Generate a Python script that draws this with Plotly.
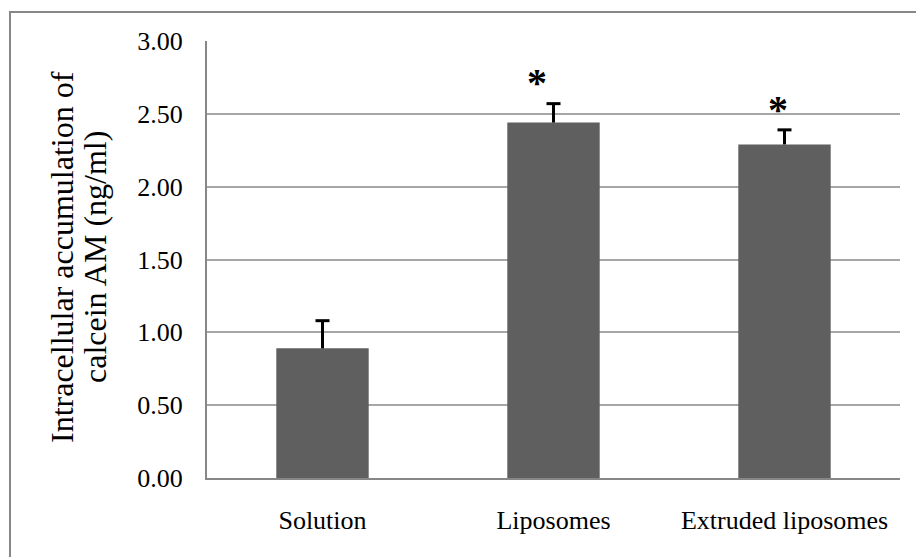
import plotly.graph_objects as go

# Intracellular calcein AM accumulation by formulation
categories = ["Solution", "Liposomes", "Extruded liposomes"]
means = [0.89, 2.44, 2.29]
errors = [0.19, 0.13, 0.10]
significant = [False, True, True]
y_ticks = [0.0, 0.5, 1.0, 1.5, 2.0, 2.5, 3.0]
y_tick_labels = ["0.00", "0.50", "1.00", "1.50", "2.00", "2.50", "3.00"]

W, H = 916, 557
L, R, T, B = 207, 16, 41, 79
plot_w = W - L - R
plot_h = H - T - B

serif = "Liberation Serif, Times New Roman, serif"

fig = go.Figure()
fig.add_trace(go.Bar(
    x=categories,
    y=means,
    width=0.4,
    marker=dict(color="#5f5f5f", line=dict(width=0)),
    hoverinfo="x+y",
))

# upper-only error bars: a stem from the bar top to mean + error, capped with a tick
stem_x, stem_y = [], []
for cat, m, e in zip(categories, means, errors):
    stem_x += [cat, cat, None]
    stem_y += [m, m + e, None]
fig.add_trace(go.Scatter(
    x=stem_x, y=stem_y, mode="lines",
    line=dict(color="black", width=3), hoverinfo="skip",
))
fig.add_trace(go.Scatter(
    x=categories, y=[m + e for m, e in zip(means, errors)], mode="markers",
    marker=dict(symbol="line-ew", size=10, line=dict(color="black", width=3)),
    hoverinfo="skip",
))

# significance marks above the error bars
star_y = {"Liposomes": 2.55, "Extruded liposomes": 2.36}
star_dx = {"Liposomes": -17, "Extruded liposomes": -7}
annotations = []
for cat, sig in zip(categories, significant):
    if sig:
        annotations.append(dict(
            x=cat, y=star_y[cat], xref="x", yref="y", text="<b>*</b>",
            showarrow=False, xshift=star_dx[cat],
            font=dict(family=serif, size=40, color="black"),
            xanchor="center", yanchor="bottom",
        ))

# two-line vertical axis title
title_lines = ["Intracellular accumulation of", "calcein AM (ng/ml)"]
title_x_px = [62, 95]
for line, xp in zip(title_lines, title_x_px):
    annotations.append(dict(
        x=(xp - L) / plot_w, y=(H - B - 257) / plot_h,
        xref="paper", yref="paper", text=line, textangle=-90,
        showarrow=False, xanchor="center", yanchor="middle",
        font=dict(family=serif, size=32, color="black"),
    ))

# chart-area frame
frame_color = "#878787"
shapes = [dict(
    type="rect", xref="paper", yref="paper",
    x0=(10 - L) / plot_w, x1=(W + 10 - L) / plot_w,
    y0=(H - B - (H + 10)) / plot_h, y1=(H - B - 12) / plot_h,
    line=dict(color=frame_color, width=2), fillcolor="rgba(0,0,0,0)",
    layer="below",
)]

fig.update_layout(
    width=W, height=H,
    margin=dict(l=L, r=R, t=T, b=B, pad=0),
    paper_bgcolor="white", plot_bgcolor="white",
    showlegend=False,
    bargap=0.6,
    annotations=annotations,
    shapes=shapes,
    xaxis=dict(
        showline=True, linecolor=frame_color, linewidth=2,
        showgrid=False, ticks="", ticklabelstandoff=18,
        tickfont=dict(family=serif, size=26, color="black"),
    ),
    yaxis=dict(
        range=[0, 3], tickvals=y_ticks, ticktext=y_tick_labels,
        showline=True, linecolor=frame_color, linewidth=2,
        showgrid=True, gridcolor="#a6a6a6", gridwidth=2,
        zeroline=False, ticks="", ticklabelstandoff=17,
        tickfont=dict(family=serif, size=26, color="black"),
    ),
)

fig.write_html("out.html")
